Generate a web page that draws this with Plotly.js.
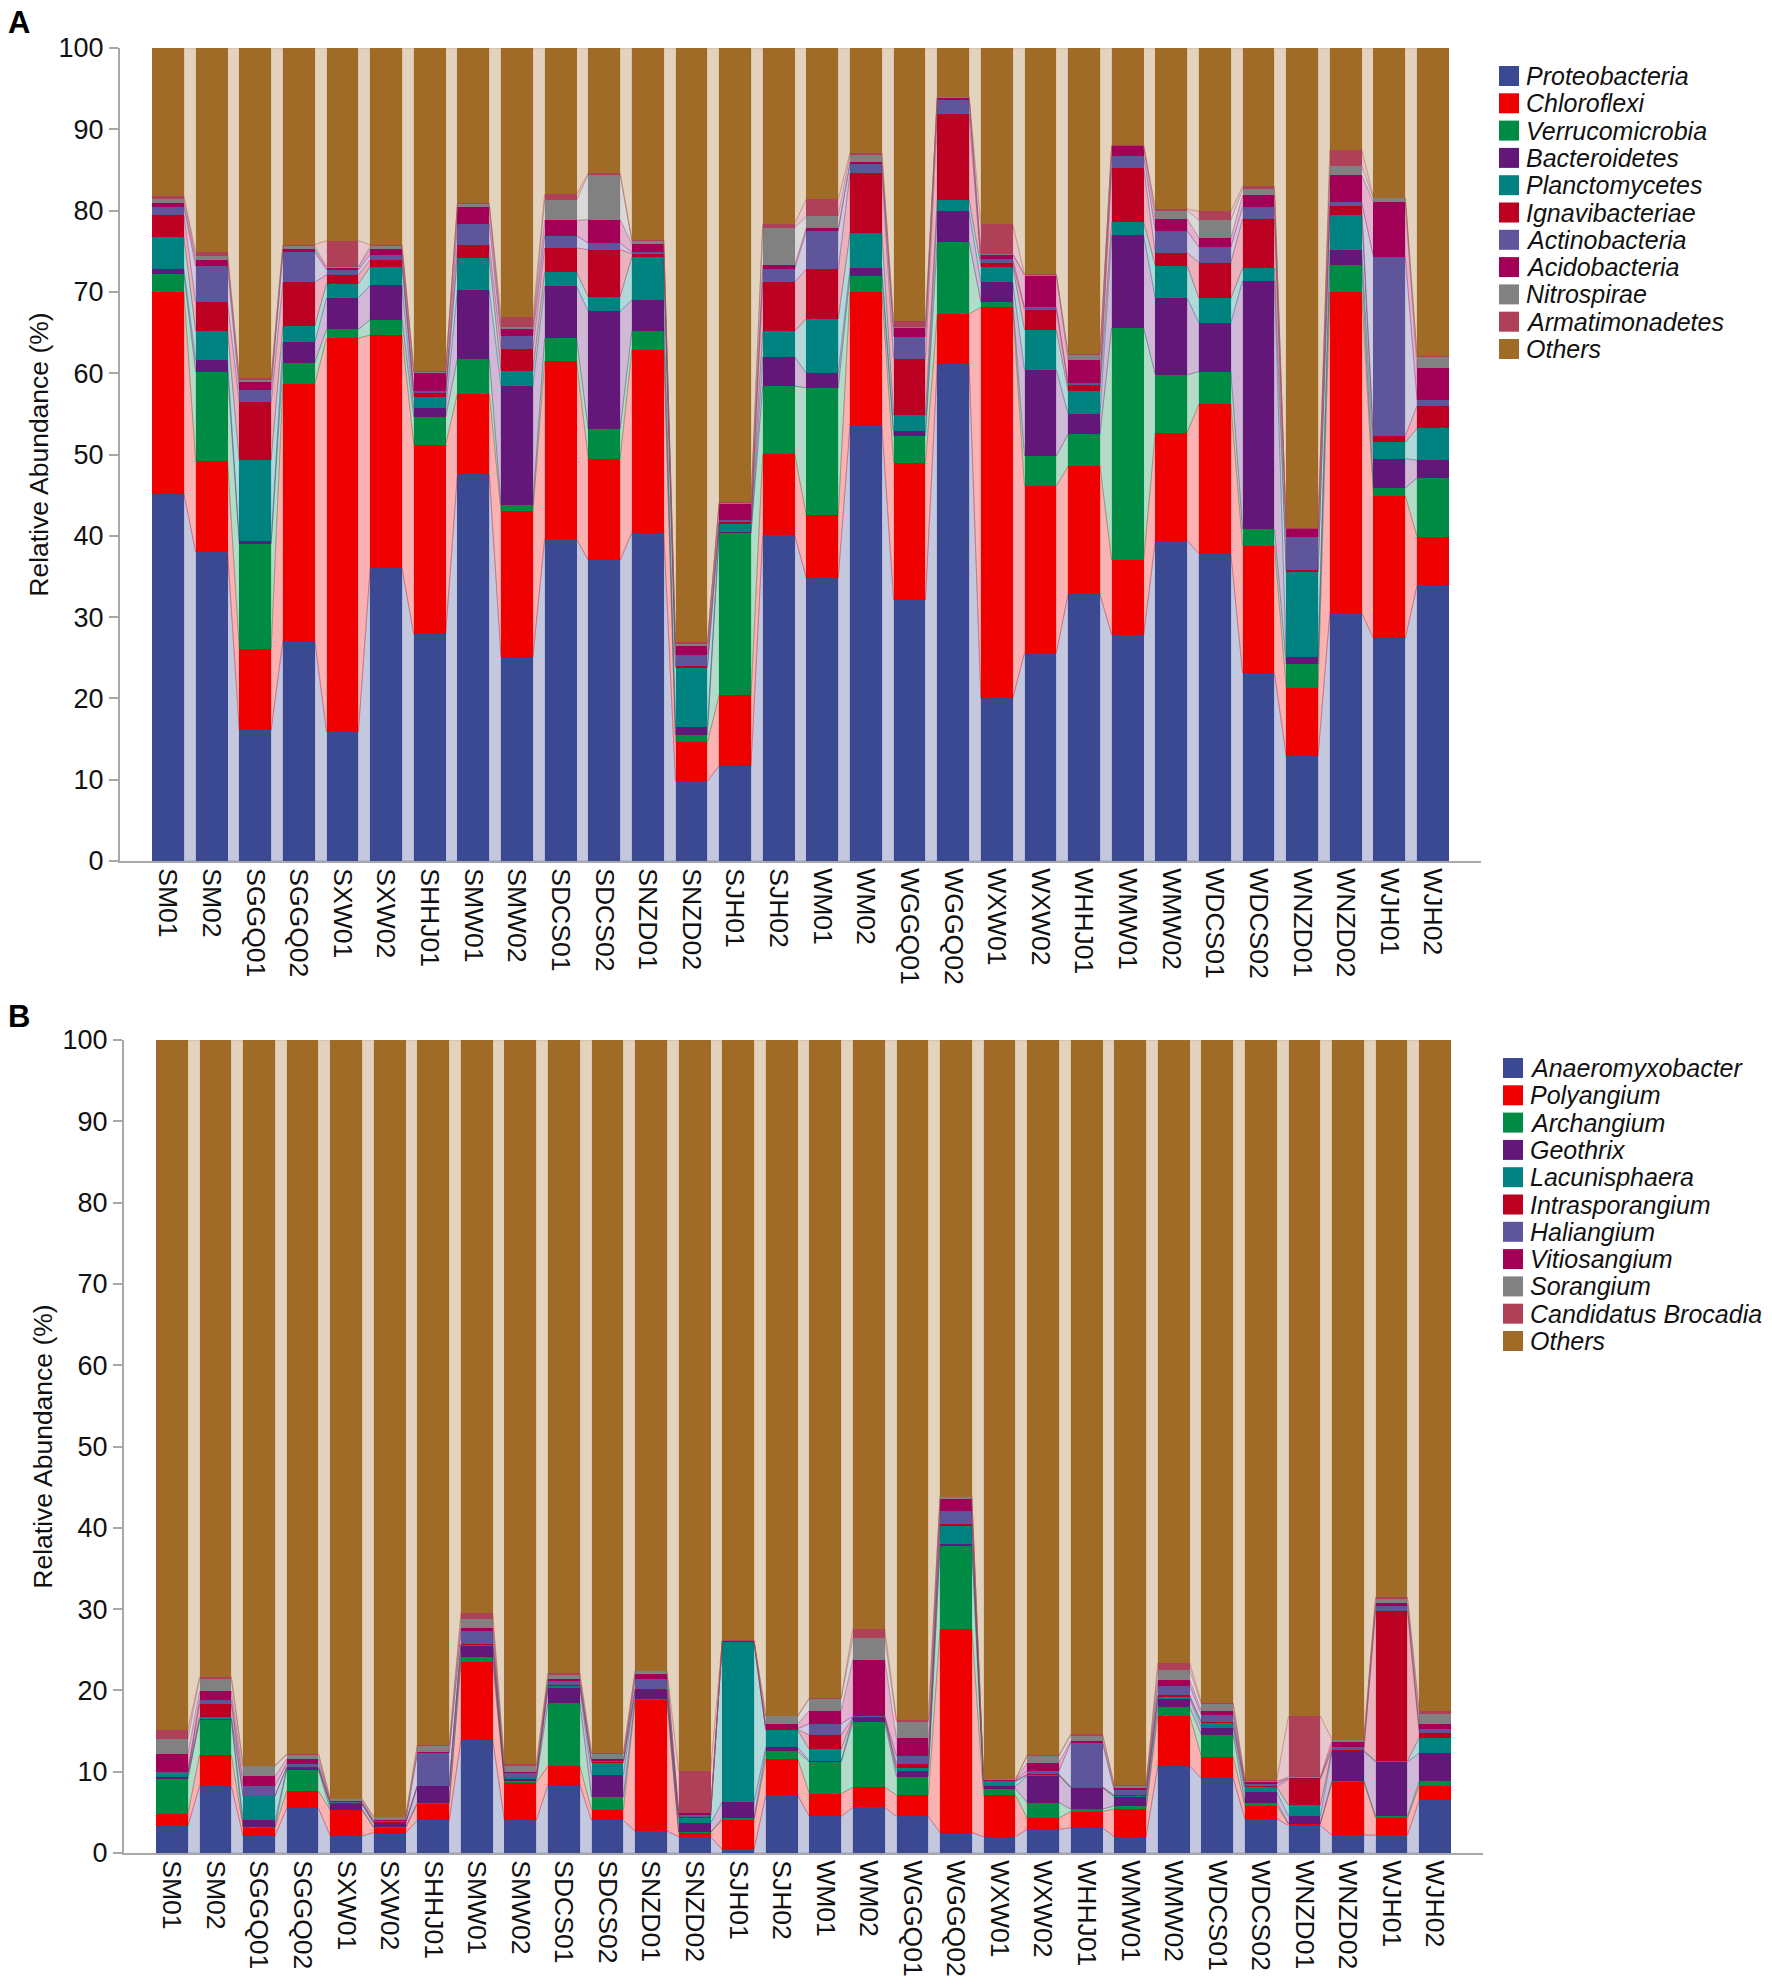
<!DOCTYPE html>
<html><head><meta charset="utf-8">
<script src="https://cdn.plot.ly/plotly-3.0.1.min.js"></script>
<style>html,body{margin:0;padding:0;background:#fff}</style>
</head><body><div id="chart" style="width:1772px;height:1985px"></div>
<script>
const samples = ["SM01","SM02","SGGQ01","SGGQ02","SXW01","SXW02","SHHJ01","SMW01","SMW02","SDCS01","SDCS02","SNZD01","SNZD02","SJH01","SJH02","WM01","WM02","WGGQ01","WGGQ02","WXW01","WXW02","WHHJ01","WMW01","WMW02","WDCS01","WDCS02","WNZD01","WNZD02","WJH01","WJH02"];

// Panel A: phyla (relative abundance, %)
const phylumNames = ["Proteobacteria","Chloroflexi","Verrucomicrobia","Bacteroidetes","Planctomycetes","Ignavibacteriae","Actinobacteria","Acidobacteria","Nitrospirae","Armatimonadetes","Others"];
const proteobacteria  = [45.2,38.0,16.1,27.1,15.9,36.0,27.9,47.6,25.1,39.6,37.0,40.4,9.8,11.7,40.1,34.8,53.6,32.1,61.1,20.0,25.6,32.8,27.8,39.4,37.8,23.1,12.9,30.5,27.4,33.9];
const chloroflexi     = [24.8,11.2,10.0,31.6,48.4,28.7,23.3,9.9,17.9,21.9,12.5,22.5,4.8,8.7,10.0,7.7,16.4,16.9,6.2,48.1,20.5,15.8,9.2,13.3,18.4,15.7,8.4,39.5,17.5,6.0];
const verrucomicrobia = [2.2,11.0,12.9,2.6,1.1,1.9,3.4,4.3,0.8,2.8,3.6,2.3,0.9,19.9,8.3,15.7,2.0,3.3,8.8,0.7,3.7,3.9,28.6,7.1,4.0,2.0,2.9,3.3,1.0,7.2];
const bacteroidetes   = [0.6,1.4,0.4,2.5,3.9,4.2,1.1,8.4,14.6,6.4,14.5,3.8,1.0,0.2,3.6,1.8,0.9,0.6,3.8,2.4,10.6,2.5,11.4,9.4,6.0,30.6,0.9,1.9,3.6,2.2];
const planctomycetes  = [3.9,3.6,9.9,2.0,1.7,2.3,1.4,4.0,1.9,1.7,1.8,5.3,7.3,1.0,3.2,6.7,4.3,1.9,1.4,1.9,4.9,2.8,1.6,4.0,3.0,1.5,10.4,4.3,2.0,3.9];
const ignavibacteriae = [2.7,3.5,7.1,5.4,1.1,0.8,0.5,1.6,2.7,3.0,5.8,0.4,0.2,0.2,6.0,6.1,7.4,7.0,10.6,0.5,2.5,0.7,6.7,1.6,4.4,6.1,0.3,1.1,0.8,2.8];
const actinobacteria  = [1.0,4.5,1.5,3.7,0.6,0.7,0.2,2.6,1.6,1.5,0.8,0.2,1.4,0.2,1.6,4.7,1.1,2.7,1.7,0.4,0.3,0.3,1.4,2.7,1.9,1.4,4.1,0.4,22.0,0.7];
const acidobacteria   = [0.5,0.7,1.0,0.4,0.3,0.7,2.2,2.0,0.8,1.9,2.9,1.0,1.1,2.0,0.5,0.4,0.3,1.0,0.3,0.6,3.9,2.8,1.2,1.5,1.1,1.5,0.9,3.4,6.7,3.9];
const nitrospirae     = [0.5,0.5,0.3,0.3,0.1,0.3,0.2,0.4,0.3,2.5,5.5,0.3,0.2,0.1,4.6,1.4,0.8,0.2,0.05,0.1,0.1,0.7,0.1,1.0,2.2,0.7,0.05,1.1,0.5,1.4];
const armatimonadetes = [0.4,0.5,0.2,0.2,3.2,0.2,0.1,0.1,1.2,0.7,0.2,0.2,0.2,0.1,0.5,2.1,0.3,0.7,0.05,3.6,0.1,0.1,0.1,0.2,1.1,0.4,0.05,2.0,0.1,0.1];
const othersPhylum    = [18.2,25.1,40.6,24.2,23.7,24.2,39.7,19.1,33.1,18.0,15.4,23.6,73.1,55.9,21.6,18.6,12.9,33.6,6.0,21.7,27.8,37.6,11.9,19.8,20.1,17.0,59.1,12.5,18.4,37.9];

// Panel B: genera (relative abundance, %)
const genusNames = ["Anaeromyxobacter","Polyangium","Archangium","Geothrix","Lacunisphaera","Intrasporangium","Haliangium","Vitiosangium","Sorangium","Candidatus Brocadia","Others"];
const anaeromyxobacter = [3.3,8.2,2.1,5.5,2.1,2.5,4.0,13.9,4.0,8.4,4.0,2.7,2.0,0.45,7.1,4.5,5.6,4.5,2.5,2.0,2.9,3.1,2.0,10.7,9.2,4.2,3.4,2.2,2.2,6.5];
const polyangium       = [1.5,3.85,1.0,2.1,3.2,0.6,2.0,9.6,4.65,2.3,1.3,16.1,0.5,3.6,4.5,2.8,2.5,2.6,25.0,5.1,1.4,2.0,3.4,6.2,2.65,1.6,0.15,6.5,2.1,1.8];
const archangium       = [4.3,4.25,0.1,2.6,0.05,0.05,0.2,0.6,0.25,7.8,1.6,0.2,0.05,0.2,0.9,3.9,8.0,2.3,10.3,0.8,1.9,0.3,0.4,1.0,2.7,0.4,0.05,0.2,0.2,0.5];
const geothrix         = [0.2,0.2,0.8,0.2,0.65,0.5,2.0,1.4,0.2,1.8,2.7,1.0,1.1,2.05,0.5,0.1,0.5,0.7,0.15,0.3,3.3,2.6,1.1,1.1,0.85,1.3,0.95,3.6,6.7,3.5];
const lacunisphaera    = [0.5,0.2,3.0,0.1,0.05,0.05,0.05,0.1,0.2,0.3,1.5,0.1,0.7,19.6,2.1,1.45,0.05,0.4,2.25,0.6,0.1,0.1,0.1,0.2,0.55,0.6,1.3,0.1,0.1,1.9];
const intrasporangium  = [0.1,1.6,0.05,0.1,0.05,0.1,0.05,0.1,0.1,0.1,0.1,0.1,0.05,0.05,0.1,1.75,0.05,0.5,0.3,0.05,0.1,0.05,0.1,0.2,0.2,0.1,3.2,0.1,18.5,0.6];
const haliangium       = [0.1,0.5,1.2,0.4,0.2,0.1,4.0,1.6,0.4,0.5,0.1,1.2,0.3,0.05,0.1,1.4,0.1,0.9,1.6,0.05,0.4,5.4,0.6,1.2,0.85,0.3,0.1,0.3,0.6,0.4];
const vitiosangium     = [2.2,1.1,1.2,0.6,0.1,0.2,0.1,0.4,0.2,0.2,0.3,0.6,0.2,0.05,0.6,1.6,7.0,2.2,1.4,0.05,1.0,0.25,0.3,0.7,0.5,0.2,0.1,0.6,0.3,0.7];
const sorangium        = [1.8,1.5,1.2,0.5,0.2,0.3,0.8,1.1,0.7,0.55,0.6,0.35,0.05,0.05,0.9,1.5,2.7,2.05,0.3,0.1,0.85,0.65,0.3,1.2,0.8,0.1,0.1,0.3,0.6,1.2];
const brocadia         = [1.1,0.3,0.1,0.1,0.05,0.05,0.1,0.7,0.2,0.15,0.1,0.05,5.1,0.05,0.05,0.1,1.1,0.2,0.05,0.05,0.05,0.2,0.05,0.9,0.2,0.2,7.5,0.05,0.2,0.4];
const othersGenus      = [84.9,78.3,89.25,87.8,93.35,95.55,86.7,70.5,89.1,77.9,87.7,77.6,89.95,73.85,83.15,80.9,72.4,83.65,56.15,90.9,88.0,85.35,91.65,76.6,81.5,91.0,83.15,86.05,68.5,82.5];

const yTickVals = [0,10,20,30,40,50,60,70,80,90,100];
const yTitle = "Relative Abundance (%)";
const panelLabels = ["A","B"];

const phylumSeries = [proteobacteria,chloroflexi,verrucomicrobia,bacteroidetes,planctomycetes,ignavibacteriae,actinobacteria,acidobacteria,nitrospirae,armatimonadetes,othersPhylum];
const genusSeries = [anaeromyxobacter,polyangium,archangium,geothrix,lacunisphaera,intrasporangium,haliangium,vitiosangium,sorangium,brocadia,othersGenus];

// styles
const palette = [[59,73,146],[238,0,0],[0,139,69],[99,24,121],[0,130,128],[187,0,33],[95,85,155],[162,0,86],[128,129,128],[174,65,88],[160,107,39]];
const rgb = c => `rgb(${c[0]},${c[1]},${c[2]})`;
const rgba = (c,a) => `rgba(${c[0]},${c[1]},${c[2]},${a})`;
const W = 1772, H = 1985;
const BARW = 0.73;
const FONT = "Liberation Sans, Arial, sans-serif";
const idx = samples.map((s,i)=>i);

function panelTraces(seriesList, names, xa, ya){
  const traces = [];
  const cum = idx.map(()=>0);
  const bases = [];
  seriesList.forEach((vals)=>{
    bases.push(cum.slice());
    vals.forEach((v,i)=>{cum[i]+=v;});
  });
  // connector bands between neighbouring bars
  seriesList.forEach((vals,s)=>{
    const xs=[], ys=[];
    const b = bases[s];
    for(let i=0;i<idx.length-1;i++){
      const x0 = idx[i]+BARW/2, x1 = idx[i+1]-BARW/2;
      xs.push(x0,x0,x1,x1,x0,null);
      ys.push(b[i], b[i]+vals[i], b[i+1]+vals[i+1], b[i+1], b[i], null);
    }
    traces.push({type:"scatter", mode:"lines", x:xs, y:ys, xaxis:xa, yaxis:ya,
      fill:"toself", fillcolor:rgba(palette[s],0.3),
      line:{color:rgba(palette[s],0.45), width:0.6},
      hoverinfo:"skip", showlegend:false});
  });
  // stacked bars
  seriesList.forEach((vals,s)=>{
    traces.push({type:"bar", x:idx, y:vals, name:names[s], xaxis:xa, yaxis:ya,
      width:BARW, marker:{color:rgb(palette[s]), line:{width:0}},
      showlegend:false, hovertemplate:"%{y}<extra>"+names[s]+"</extra>"});
  });
  return traces;
}

const data = panelTraces(phylumSeries, phylumNames, "x", "y")
  .concat(panelTraces(genusSeries, genusNames, "x2", "y2"));

const px = x => x/W, py = y => 1 - y/H;

function xaxisDef(d0,d1,anchor){
  return {domain:[px(d0),px(d1)], anchor:anchor, range:[-1.1,30.1], tickmode:"array",
    tickvals:idx, ticktext:samples, tickangle:90, ticks:"", showline:true,
    linecolor:"#a8a8a8", linewidth:2, showgrid:false, zeroline:false,
    tickfont:{family:FONT, size:26.5, color:"#111"}, fixedrange:true, automargin:false};
}
function yaxisDef(d0,d1,anchor){
  return {domain:[py(d0),py(d1)], anchor:anchor, range:[0,100], tickmode:"array",
    tickvals:yTickVals, ticks:"outside", ticklen:9, tickwidth:2, tickcolor:"#a8a8a8",
    showline:true, linecolor:"#a8a8a8", linewidth:2, showgrid:false, zeroline:false,
    tickfont:{family:FONT, size:27, color:"#111"},
    title:{text:yTitle, font:{family:FONT, size:26.5, color:"#111"}, standoff:2},
    fixedrange:true, automargin:false};
}

const shapes = [], annotations = [];
function legendBlock(names, left, firstCenter, step, textX){
  names.forEach((n,s)=>{
    const cy = firstCenter + s*step;
    shapes.push({type:"rect", xref:"paper", yref:"paper",
      x0:px(left), x1:px(left+20), y0:py(cy-10), y1:py(cy+10),
      fillcolor:rgb(palette[s]), line:{width:0}});
    annotations.push({xref:"paper", yref:"paper", x:px(textX), y:py(cy),
      xanchor:"left", yanchor:"middle", showarrow:false, text:n,
      font:{family:FONT, size:25, color:"#111", style:"italic"}});
  });
}
legendBlock(phylumNames, 1499, 76, 27.3, 1524);
legendBlock(genusNames, 1503, 1068, 27.3, 1528);

annotations.push({xref:"paper", yref:"paper", x:px(6), y:py(22), xanchor:"left", yanchor:"middle",
  showarrow:false, text:"<b>"+panelLabels[0]+"</b>", font:{family:FONT, size:31, color:"#000"}});
annotations.push({xref:"paper", yref:"paper", x:px(6), y:py(1016), xanchor:"left", yanchor:"middle",
  showarrow:false, text:"<b>"+panelLabels[1]+"</b>", font:{family:FONT, size:31, color:"#000"}});

const layout = {
  width:W, height:H, margin:{l:0,r:0,t:0,b:0}, paper_bgcolor:"#fff", plot_bgcolor:"rgba(0,0,0,0)",
  barmode:"stack", showlegend:false, font:{family:FONT},
  xaxis: xaxisDef(120,1481,"y"),
  yaxis: yaxisDef(861,48,"x"),
  xaxis2: xaxisDef(124,1483,"y2"),
  yaxis2: yaxisDef(1853,1040,"x2"),
  shapes:shapes, annotations:annotations
};

Plotly.newPlot("chart", data, layout, {displayModeBar:false, staticPlot:true});
</script></body></html>
